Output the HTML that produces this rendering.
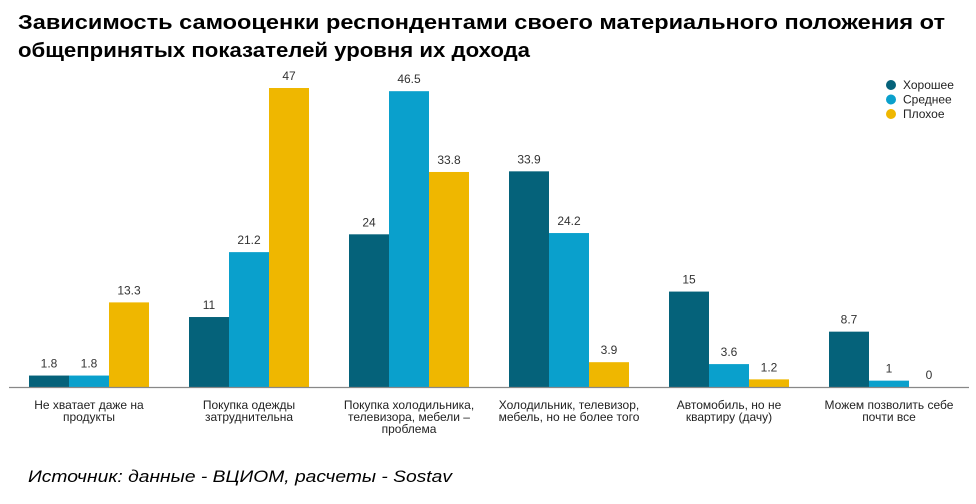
<!DOCTYPE html>
<html><head><meta charset="utf-8"><style>
body{margin:0;background:#fff;width:976px;height:499px;overflow:hidden;font-family:"Liberation Sans",sans-serif}
</style></head><body>
<svg width="976" height="499">
<text x="18" y="29" font-size="20" font-weight="bold" fill="#000" textLength="927" lengthAdjust="spacingAndGlyphs">Зависимость самооценки респондентами своего материального положения от</text>
<text x="18" y="57" font-size="20" font-weight="bold" fill="#000" textLength="512" lengthAdjust="spacingAndGlyphs">общепринятых показателей уровня их дохода</text>
<g id="bars"></g>
<line x1="9" x2="969" y1="387.5" y2="387.5" stroke="#888" stroke-width="1.2"/>
<g id="labels"></g>
<g id="legend"></g>
<text x="28" y="482" font-size="17" font-style="italic" fill="#000" textLength="424" lengthAdjust="spacingAndGlyphs">Источник: данные - ВЦИОМ, расчеты - Sostav</text>
</svg>
<script>
const categories=[["Не хватает даже на","продукты"],["Покупка одежды","затруднительна"],["Покупка холодильника,","телевизора, мебели –","проблема"],["Холодильник, телевизор,","мебель, но не более того"],["Автомобиль, но не","квартиру (дачу)"],["Можем позволить себе","почти все"]];
const seriesNames=["Хорошее","Среднее","Плохое"];
const good=[1.8,11,24,33.9,15,8.7];
const medium=[1.8,21.2,46.5,24.2,3.6,1];
const bad=[13.3,47,33.8,3.9,1.2,0];
const colors=["#05627a","#0aa0cc","#efb700"];
const ns="http://www.w3.org/2000/svg";
const x0=9,step=160,bw=40,base=387,k=299/47;
const xc=i=>x0+step*i+80;
const y=v=>base-v*k;
const bars=document.getElementById('bars'),labels=document.getElementById('labels'),legend=document.getElementById('legend');
[good,medium,bad].forEach((s,si)=>{
 s.forEach((v,i)=>{
  const r=document.createElementNS(ns,'rect');
  const bx=xc(i)-60+si*bw;
  r.setAttribute('x',bx);r.setAttribute('y',y(v));r.setAttribute('width',bw);r.setAttribute('height',base-y(v));r.setAttribute('fill',colors[si]);
  
  
  bars.appendChild(r);
  const t=document.createElementNS(ns,'text');
  t.setAttribute('x',bx+bw/2);t.setAttribute('y',y(v)-8);t.setAttribute('font-size','12');t.setAttribute('text-anchor','middle');t.setAttribute('fill','#333');
  t.textContent=String(v);
  
  
  bars.appendChild(t);
 });
});
categories.forEach((c,i)=>{
 c.forEach((line,li)=>{
  const t=document.createElementNS(ns,'text');
  t.setAttribute('x',xc(i));t.setAttribute('y',409+li*12);t.setAttribute('font-size','12');t.setAttribute('text-anchor','middle');t.setAttribute('fill','#222');
  t.textContent=line;
  
  
  labels.appendChild(t);
 });
});
seriesNames.forEach((n,i)=>{
 const c=document.createElementNS(ns,'circle');
 c.setAttribute('cx',891);c.setAttribute('cy',85+i*14.5);c.setAttribute('r',5);c.setAttribute('fill',colors[i]);
 
 
 legend.appendChild(c);
 const t=document.createElementNS(ns,'text');
 t.setAttribute('x',903);t.setAttribute('y',89+i*14.5);t.setAttribute('font-size','12');t.setAttribute('fill','#222');
 t.textContent=n;
 
 
 legend.appendChild(t);
});
</script>
</body></html>
